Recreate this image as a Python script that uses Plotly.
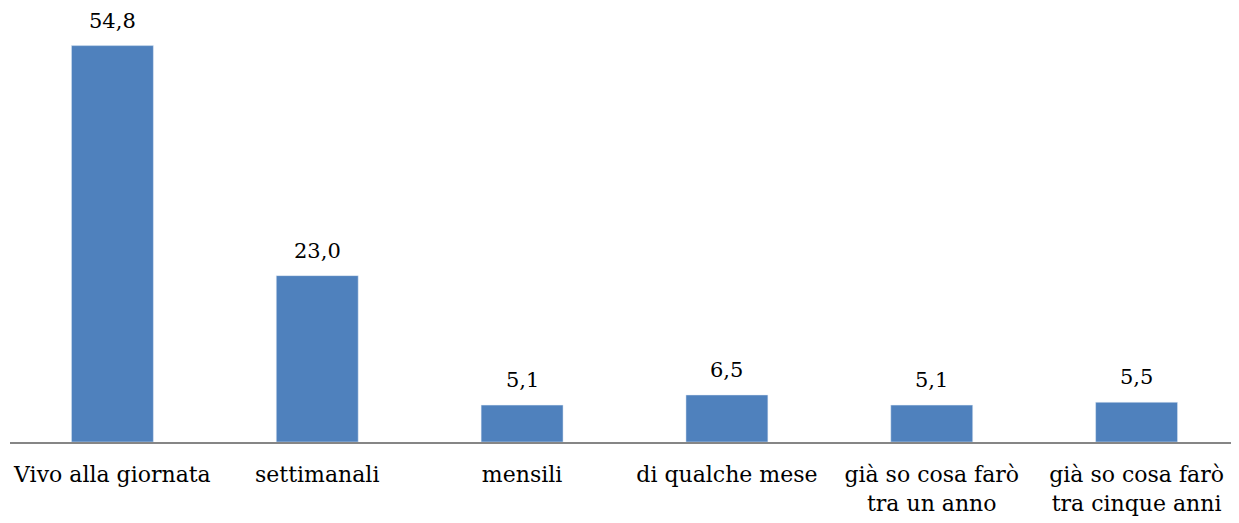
import plotly.graph_objects as go

categories = ["Vivo alla giornata", "settimanali", "mensili", "di qualche mese",
              "già so cosa farò<br>tra un anno", "già so cosa farò<br>tra cinque anni"]
values = [54.8, 23.0, 5.1, 6.5, 5.1, 5.5]
labels = ["54,8", "23,0", "5,1", "6,5", "5,1", "5,5"]

FONT = "DejaVu Serif, Liberation Serif, serif"

fig = go.Figure()
fig.add_trace(go.Bar(x=list(range(len(categories))), y=values, marker_color="#4F81BD",
                     width=0.4, hoverinfo="skip"))

for i, (v, t) in enumerate(zip(values, labels)):
    fig.add_annotation(x=i, y=v, text=t, showarrow=False, yanchor="bottom", yshift=11,
                       font=dict(family=FONT, size=21, color="#000000"))

fig.update_layout(
    width=1239, height=523,
    margin=dict(l=2, r=8, t=0, b=89, autoexpand=False),
    plot_bgcolor="white", paper_bgcolor="white",
    showlegend=False,
    xaxis=dict(tickmode="array", tickvals=list(range(len(categories))), ticktext=categories,
               range=[-0.5, len(categories) - 0.5], showline=True, linecolor="#868686",
               linewidth=1.5, ticks="outside", ticklen=12, tickcolor="rgba(0,0,0,0)",
               automargin=False,
               tickfont=dict(family=FONT, size=22, color="#000000"), tickangle=0),
    yaxis=dict(range=[0, 60], visible=False, showgrid=False, zeroline=False, automargin=False),
)

fig.write_html("out.html")
